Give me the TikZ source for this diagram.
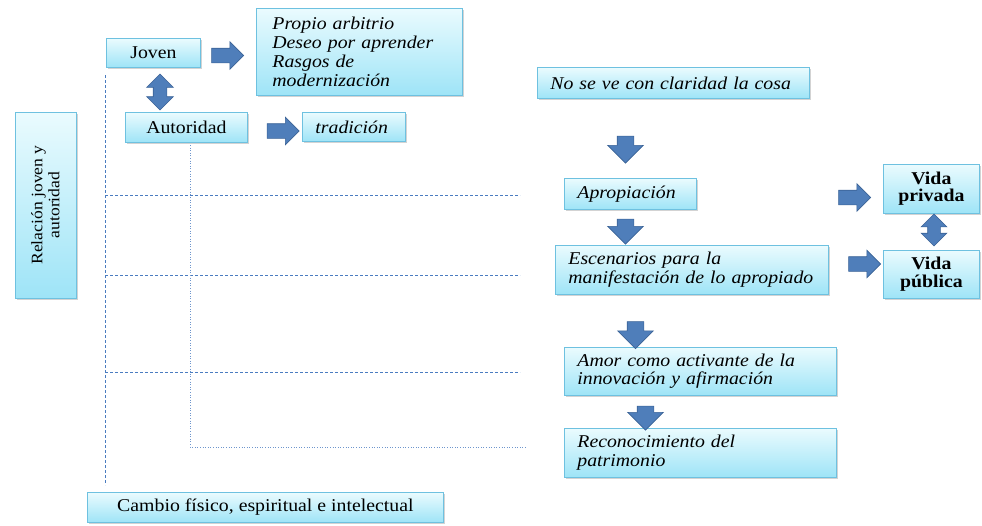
\documentclass[tikz,border=0pt]{standalone}
\usepackage{fontspec}
\setmainfont{Liberation Serif}[FakeStretch=1.1]
\usetikzlibrary{shapes.arrows,shadows}
\definecolor{boxline}{HTML}{6EC1E0}
\definecolor{boxtop}{HTML}{EAFBFE}
\definecolor{boxbot}{HTML}{9EE4F7}
\definecolor{arrowfill}{HTML}{4F7EBA}
\definecolor{arrowline}{HTML}{3A6296}
\definecolor{guide}{HTML}{4A7CC0}
\tikzset{
  box/.style={draw=boxline, line width=0.8pt, top color=boxtop, bottom color=boxbot,
    drop shadow={shadow xshift=1.5pt, shadow yshift=-1.5pt, opacity=0.35},
    inner sep=0pt, anchor=north west, align=center, font=\fontsize{18}{18.5}\selectfont},
  ibox/.style={box, align=left, inner xsep=13pt, font=\fontsize{18}{18.5}\selectfont\itshape},
  vbox/.style={box, font=\fontsize{18}{17.5}\selectfont\bfseries},
  blockarrow/.style={single arrow, draw=arrowline, fill=arrowfill, line width=0.6pt,
    inner xsep=0pt, inner ysep=7pt, minimum height=32pt, single arrow head extend=6.5pt},
  downarrow/.style={blockarrow, rotate=-90, minimum height=27pt, inner ysep=8pt, single arrow head extend=9.5pt},
  bothways/.style={double arrow, draw=arrowline, fill=arrowfill, line width=0.6pt, rotate=90,
    inner xsep=0pt, inner ysep=6.5pt, minimum height=36pt, double arrow head extend=6.5pt},
  guideline/.style={guide, line width=0.6pt, dash pattern=on 3pt off 2pt},
}
\begin{document}
\begin{tikzpicture}[x=1pt, y=-1pt]
  \useasboundingbox (0,0) rectangle (982,525);
  % Guides
  \coordinate (vtop) at (105,75);
  \coordinate (vbot) at (105,485);
  \draw[guideline] (vtop) -- (vbot);
  \foreach \y [count=\i] in {195, 275, 372} {
      \coordinate (gl\i) at (105,\y);
      \coordinate (gr\i) at (520,\y);
      \draw[guideline] (gl\i) -- (gr\i);
    }
  \coordinate (dtop) at (190,145);
  \coordinate (dcorner) at (190,447);
  \coordinate (dend) at (527,447);
  \draw[guide!80, line width=0.6pt, dotted] (dtop) -- (dcorner) -- (dend);
  % Left column
  \node[box, minimum width=94pt, minimum height=29pt] (joven) at (106,38) {Joven};
  \node[ibox, minimum height=87pt, text width=174pt, inner xsep=16pt,
    font=\fontsize{18}{19}\selectfont\itshape] (rasgos) at (256,8)
    {Propio arbitrio\\Deseo por aprender\\Rasgos de\\modernización};
  \node[box, minimum width=122pt, minimum height=30pt] (autoridad) at (125,112) {Autoridad};
  \node[ibox, minimum height=29pt, text width=77pt] (tradicion) at (302,112) {tradición};
  \node[box, rotate=90, anchor=center, minimum width=186pt, minimum height=61pt,
    font=\fontsize{16}{17}\selectfont] (relacion) at (45.5,205) {Relación joven y\\autoridad};
  \node[box, minimum width=356pt, minimum height=30pt] (cambio) at (87,492)
    {Cambio físico, espiritual e intelectual};
  \node[blockarrow] (a1) at (224,55.5) {};
  \node[bothways] (a2) at (160,92) {};
  \node[blockarrow] (a3) at (279.5,131) {};
  % Right column
  \node[ibox, minimum height=31pt, text width=246pt] (cosa) at (537,67) {No se ve con claridad la cosa};
  \node[ibox, minimum height=31pt, text width=106pt] (apropiacion) at (564,178) {Apropiación};
  \node[ibox, minimum height=49pt, text width=247pt] (escenarios) at (555,245)
    {Escenarios para la\\manifestación de lo apropiado};
  \node[ibox, minimum height=48pt, text width=246pt] (amor) at (564,347)
    {Amor como activante de la\\innovación y afirmación};
  \node[ibox, minimum height=49pt, text width=246pt] (patrimonio) at (564,428)
    {Reconocimiento del\\patrimonio};
  \node[vbox, minimum width=96pt, minimum height=49pt] (privada) at (883,164) {Vida\\privada};
  \node[vbox, minimum width=96pt, minimum height=48pt] (publica) at (883,250) {Vida\\pública};
  \node[downarrow] (d1) at (625.5,145.5) {};
  \node[downarrow, minimum height=25pt] (d2) at (625.5,227.5) {};
  \node[downarrow] (d3) at (635.5,331) {};
  \node[downarrow, minimum height=24pt] (d4) at (645.5,414) {};
  \node[blockarrow] (r1) at (851,197.5) {};
  \node[blockarrow] (r2) at (861,264) {};
  \node[bothways, minimum height=32pt, inner ysep=6pt] (b2) at (934,230) {};
\end{tikzpicture}
\end{document}
